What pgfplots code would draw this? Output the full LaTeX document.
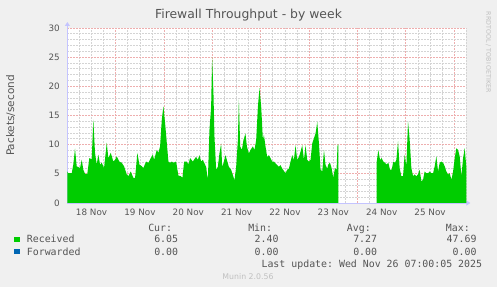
\documentclass[border=0pt]{standalone}
\usepackage{fontspec}
\setmainfont{DejaVu Sans}
\setmonofont{DejaVu Sans Mono}
\usepackage{pgfplots}
\pgfplotsset{compat=1.18}
\usetikzlibrary{arrows.meta}
\definecolor{bgc}{HTML}{F0F0F0}
\definecolor{titlec}{HTML}{555555}
\definecolor{labc}{HTML}{555555}
\definecolor{axisc}{HTML}{C4C4FF}
\definecolor{gridred}{HTML}{EEAEAE}
\definecolor{gridgrey}{HTML}{D4D4D4}
\definecolor{recvgreen}{HTML}{00CC00}
\definecolor{fwdblue}{HTML}{0066B3}
\definecolor{faintc}{HTML}{C0C0C0}
\begin{document}
\begin{tikzpicture}
\useasboundingbox[fill=bgc] (0,0) rectangle (497bp,287bp);
\begin{axis}[
  at={(67.4bp,84bp)}, anchor=south west,
  scale only axis, width=399bp, height=175bp,
  xmin=0, xmax=198.06, ymin=0, ymax=30,
  axis background/.style={fill=white},
  axis lines=left,
  axis line style={draw=axisc, line width=0.9bp},
  x axis line style={-{Triangle[length=4bp,width=5bp]}, shorten >=-4bp},
  y axis line style={-{Triangle[length=4bp,width=5bp]}, shorten >=-6bp},
  grid=both,
  major grid style={draw=gridred, dash pattern=on 2bp off 1bp, line width=0.8bp},
  minor grid style={draw=gridgrey, dash pattern=on 2bp off 1bp, line width=0.8bp},
  xtick={24,48,...,192}, xticklabels={,,,,,,,},
  minor xtick={6,12,18,30,36,42,54,60,66,78,84,90,102,108,114,126,132,138,150,156,162,174,180,186,198},
  extra x ticks={12,36,60,84,108,132,156,180},
  extra x tick labels={18 Nov,19 Nov,20 Nov,21 Nov,22 Nov,23 Nov,24 Nov,25 Nov},
  extra x tick style={grid=none},
  ytick={0,5,...,30},
  minor ytick={1,2,3,4,6,7,8,9,11,12,13,14,16,17,18,19,21,22,23,24,26,27,28,29},
  major tick length=0pt, minor tick length=0pt,
  /pgf/number format/assume math mode=true,
  ticklabel style={font=\fontsize{8.8bp}{10bp}\selectfont, text=labc},
  yticklabel style={anchor=east, inner sep=0pt, xshift=-7.4bp},
  xticklabel style={anchor=north, inner sep=0pt, yshift=-6bp},
  title={Firewall Throughput - by week},
  title style={at={(axis description cs:0.4539,1.0229)}, anchor=base, font=\fontsize{12.4bp}{14bp}\selectfont, text=titlec, inner sep=0pt},
  ylabel={Packets/second},
  every axis y label/.style={at={(axis description cs:-0.1338,0.5)}, rotate=90, anchor=base, font=\fontsize{10.5bp}{12bp}\selectfont, text=labc, inner sep=0pt},
]
\addplot[fill=recvgreen, draw=none] coordinates {
(0,5.4) (0.45,5.1) (2.14,5.1) (2.93,6.6) (3.78,9.3) (4.62,6.3) (6.26,6.0) (7.11,7.4) (7.90,5.7) (8.75,5.0) (9.89,5.0) (10.88,7.7) (12.07,7.5) (12.87,14.3) (13.71,8.6) (14.56,6.6) (15.35,8.3) (16.20,6.6) (17.04,6.9) (18.19,6.0) (19.53,10.3) (20.32,7.7) (21.52,8.6) (22.81,7.1) (23.65,7.4) (24.50,8.0) (25.79,7.1) (26.98,6.9) (28.12,6.3) (29.47,4.9) (30.26,4.6) (31.45,5.4) (32.75,4.3) (33.59,4.3) (34.73,8.6) (35.73,6.6) (36.92,6.3) (37.71,6.0) (39.06,7.1) (40.20,6.9) (41.39,7.7) (42.39,8.3) (43.03,7.4) (44.37,9.1) (45.17,8.6) (46.01,9.7) (46.86,14.3) (47.65,16.6) (48.50,13.7) (49.34,10.3) (50.14,7.1) (50.98,6.9) (51.83,7.1) (52.62,6.9) (53.96,7.1) (55.11,4.7) (56.30,4.6) (57.09,4.3) (57.94,7.1) (59.28,7.1) (60.07,6.6) (60.92,7.7) (62.26,7.1) (63.40,7.7) (63.90,7.9) (64.75,7.4) (65.54,8.2) (66.39,7.1) (67.23,7.4) (68.03,6.8) (68.87,6.2) (69.72,3.9) (70.51,12.5) (71.35,16.5) (71.85,25.0) (72.50,18.8) (73.00,11.4) (73.84,5.7) (74.68,6.2) (75.48,8.5) (76.32,10.2) (76.82,6.2) (77.47,6.8) (78.46,8.2) (79.16,7.4) (80.15,6.2) (81.29,5.7) (82.14,4.8) (82.93,3.9) (83.78,6.2) (84.62,10.8) (85.12,17.7) (85.76,9.7) (86.61,9.1) (87.40,10.8) (88.40,11.9) (89.09,9.7) (90.09,8.5) (90.88,9.1) (92.07,9.7) (92.87,9.1) (93.71,10.8) (94.56,16.5) (95.35,19.7) (96.20,16.5) (97.04,10.8) (97.54,11.7) (98.34,9.7) (99.18,7.9) (100.03,8.2) (100.82,7.7) (101.66,7.1) (102.51,7.1) (103.30,6.8) (104.15,6.5) (104.99,6.2) (105.79,6.5) (106.63,5.9) (107.48,5.5) (108.27,5.1) (109.12,5.7) (109.96,5.9) (110.76,7.1) (111.60,8.2) (112.45,7.4) (113.24,9.9) (114.09,7.4) (114.93,7.9) (115.73,8.8) (116.57,9.9) (117.42,7.4) (118.21,9.9) (119.06,7.4) (119.90,7.1) (120.70,7.4) (121.54,10.2) (122.39,11.1) (123.18,11.9) (124.03,13.9) (124.87,10.2) (125.67,5.7) (126.51,5.4) (127.36,9.1) (128.15,6.5) (129.00,5.9) (129.49,6.6) (130.34,6.9) (131.13,6.0) (131.97,4.3) (132.82,6.0) (133.61,5.7) (134.11,10.0) (134.46,10.0)
} \closedcycle;
\addplot[fill=recvgreen, draw=none] coordinates {
(153.49,6.9) (154.34,9.1) (155.18,7.4) (155.98,7.7) (156.82,7.1) (157.67,6.9) (158.46,6.6) (159.31,6.9) (160.15,5.7) (160.95,5.7) (161.79,7.1) (162.63,6.9) (163.28,7.4) (164.13,10.6) (164.92,6.0) (165.76,4.6) (166.61,4.6) (167.40,8.3) (168.25,6.3) (169.09,14.0) (169.89,10.9) (170.73,6.0) (171.58,4.6) (172.37,4.9) (173.22,4.6) (174.06,4.9) (174.86,5.7) (175.70,3.7) (176.55,4.0) (177.34,5.4) (178.19,5.1) (179.03,5.1) (179.83,5.4) (180.67,5.1) (181.52,5.1) (182.31,6.3) (183.16,8.0) (184.00,5.4) (184.80,6.9) (185.64,7.1) (186.48,6.9) (187.28,6.3) (188.12,5.4) (188.97,4.9) (189.76,5.1) (190.61,4.0) (191.45,5.4) (192.25,7.7) (193.09,9.4) (193.94,9.1) (194.73,8.0) (195.58,4.6) (196.42,7.7) (197.22,9.4) (198.06,6.05)
} \closedcycle;
\addplot[draw=fwdblue, line width=0.3bp] coordinates {(0,0) (134.46,0)};
\addplot[draw=fwdblue, line width=0.3bp] coordinates {(153.49,0) (198.06,0)};
\end{axis}
% legend and footer text
\tikzset{mono/.style={font=\ttfamily\fontsize{9.9bp}{11bp}\selectfont, text=labc, inner sep=0pt}}
\node[mono, anchor=base east] at (172.3bp,55.3bp) {Cur:};
\node[mono, anchor=base east] at (272.3bp,55.3bp) {Min:};
\node[mono, anchor=base east] at (371bp,55.3bp) {Avg:};
\node[mono, anchor=base east] at (470bp,55.3bp) {Max:};
\fill[recvgreen] (14bp,44.7bp) rectangle (20bp,50.3bp);
\fill[fwdblue] (14bp,32.7bp) rectangle (20bp,38.3bp);
\node[mono, anchor=base west] at (26.7bp,44bp) {Received};
\node[mono, anchor=base west] at (26.7bp,32bp) {Forwarded};
\node[mono, anchor=base east] at (178.3bp,44bp) {6.05};
\node[mono, anchor=base east] at (278.7bp,44bp) {2.40};
\node[mono, anchor=base east] at (377.3bp,44bp) {7.27};
\node[mono, anchor=base east] at (476.7bp,44bp) {47.69};
\node[mono, anchor=base east] at (178.3bp,32bp) {0.00};
\node[mono, anchor=base east] at (278.7bp,32bp) {0.00};
\node[mono, anchor=base east] at (377.3bp,32bp) {0.00};
\node[mono, anchor=base east] at (476.7bp,32bp) {0.00};
\node[mono, anchor=base east] at (482.3bp,19.7bp) {Last update: Wed Nov 26 07:00:05 2025};
\node[anchor=base, inner sep=0pt, font=\fontsize{7.8bp}{9bp}\selectfont, text=faintc] at (248bp,8bp) {Munin 2.0.56};
\node[rotate=-90, anchor=center, inner sep=0pt, font=\fontsize{6.3bp}{7bp}\selectfont, text=faintc] at (488.3bp,234.5bp) {RRDTOOL / TOBI OETIKER};
\end{tikzpicture}
\end{document}
